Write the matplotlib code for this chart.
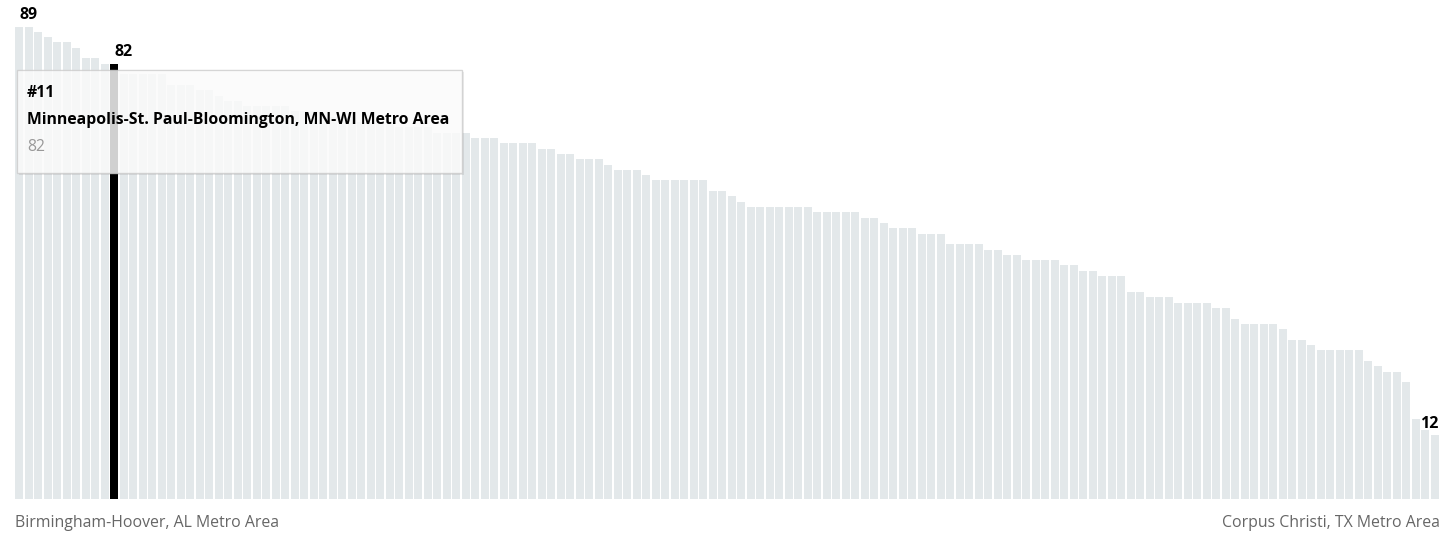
import numpy as np
import matplotlib
matplotlib.use("Agg")
from matplotlib import pyplot as plt
from matplotlib.patches import Rectangle

plt.rcParams['font.family'] = ['Open Sans', 'DejaVu Sans']

# scores, rank 1 .. 150
scores = [89, 89, 88, 87, 86, 86, 85, 83, 83, 82, 82,
          80, 80, 80, 80, 80, 78, 78, 78, 77, 77, 76, 75, 75,
          74, 74, 74, 74, 74,
          73, 73, 73, 72, 72, 72, 72, 71, 71, 71, 71, 70, 70, 70, 70, 69, 69, 69,
          69, 68, 68, 68, 67, 67, 67, 67, 66, 66, 65, 65, 64, 64, 64, 63,
          62, 62, 62, 61, 60, 60, 60, 60, 60, 60, 58, 58, 57, 56,
          55, 55, 55, 55, 55, 55, 55, 54, 54, 54, 54, 54, 53, 53, 52,
          51, 51, 51, 50, 50, 50, 48, 48, 48, 48, 47, 47, 46, 46,
          45, 45, 45, 45, 44, 44, 43, 43, 42, 42, 42, 39, 39,
          38, 38, 38, 37, 37, 37, 37, 36, 36, 34, 33, 33, 33, 33, 32,
          30, 30, 29, 28, 28, 28, 28, 28, 26, 25, 24, 24, 22, 15, 13, 12]

first_name = "Birmingham-Hoover, AL Metro Area"
last_name = "Corpus Christi, TX Metro Area"
sel_rank = 11
sel_name = "Minneapolis-St. Paul-Bloomington, MN-WI Metro Area"

W, H = 1445, 534
fig = plt.figure(figsize=(W / 100, H / 100), dpi=100)
ax = fig.add_axes([15 / W, 35 / H, 1425 / W, 499 / H])

n = len(scores)
x = np.arange(n)
colors = ['#e3e8ea'] * n
colors[sel_rank - 1] = '#000000'
ax.bar(x, scores, width=0.86, align='edge', color=colors, linewidth=0)
ax.set_xlim(0, n)
ax.set_ylim(0, 94)
ax.axis('off')

# value labels
lab_fs = 11.5
ax.text(0.5, scores[0] + 0.7, str(scores[0]), fontsize=lab_fs, fontweight='bold', ha='left', va='bottom')
ax.text(sel_rank - 1 + 0.5, scores[sel_rank - 1] + 0.7, str(scores[sel_rank - 1]),
        fontsize=lab_fs, fontweight='bold', ha='left', va='bottom')
ax.text(n - 0.2, scores[-1] + 0.7, str(scores[-1]), fontsize=lab_fs, fontweight='bold', ha='right', va='bottom')

# tooltip box (pixel positions, top-left origin)
def fy(p):
    return 1 - p / H

bx0, by0, bx1, by1 = 17, 70, 462, 173
fig.add_artist(Rectangle((bx0 / W + 2 / W, fy(by1 + 2)), (bx1 - bx0) / W, (by1 - by0) / H,
                         transform=fig.transFigure, facecolor='#000000', alpha=0.08, linewidth=0))
fig.add_artist(Rectangle((bx0 / W, fy(by1)), (bx1 - bx0) / W, (by1 - by0) / H,
                         transform=fig.transFigure, facecolor='white', alpha=0.82,
                         edgecolor='#cccccc', linewidth=1))
tip_fs = 11.3
fig.text(27 / W, fy(93), "#%d" % sel_rank, fontsize=tip_fs, fontweight='bold', va='center', ha='left')
fig.text(27 / W, fy(120), sel_name, fontsize=tip_fs, fontweight='bold', va='center', ha='left')
fig.text(27 / W, fy(147), str(scores[sel_rank - 1]), fontsize=tip_fs, color='#999999', va='center', ha='left')

# end labels
fig.text(15 / W, fy(523), first_name, fontsize=11.4, color='#666666', va='center', ha='left')
fig.text(1440 / W, fy(523), last_name, fontsize=11.4, color='#666666', va='center', ha='right')

fig.savefig('out.png', dpi=100)
